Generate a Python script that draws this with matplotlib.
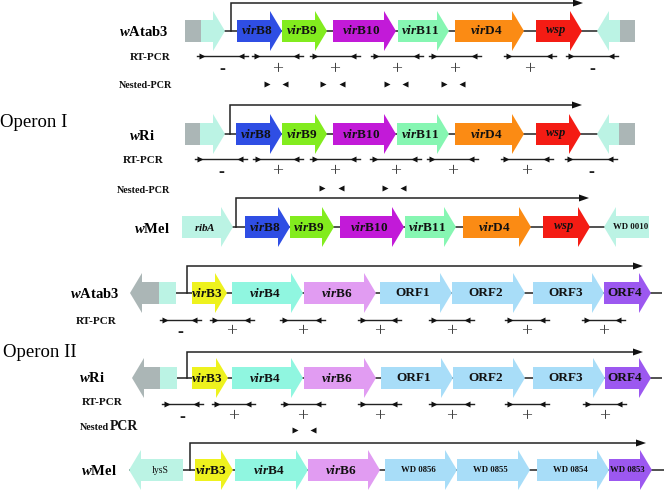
import matplotlib
matplotlib.use('Agg')
import matplotlib.pyplot as plt
from matplotlib.patches import Polygon, Rectangle

plt.rcParams['mathtext.fontset'] = 'custom'
plt.rcParams['mathtext.rm'] = 'Liberation Serif:bold'
plt.rcParams['mathtext.it'] = 'Liberation Serif:italic:bold'
plt.rcParams['mathtext.bf'] = 'Liberation Serif:bold'
SERIF = 'Liberation Serif'

# ---------------- DATA ----------------
# Operon I
op1_wAtab3_genes = ['grey', 'flankF', 'virB8', 'virB9', 'virB10', 'virB11', 'virD4', 'wsp', 'flankR', 'grey']
op1_wAtab3_start = [185, 201, 237, 282, 333, 398, 455, 536, 597, 620]
op1_wAtab3_end = [201, 225, 282, 327, 396, 449, 524, 582, 620, 635]
op1_wAtab3_strand = ['box', '+', '+', '+', '+', '+', '+', '+', '-', 'box']
op1_wAtab3_rt = [(197, 248), (252, 303), (310, 360), (371, 423), (429, 481), (504, 556), (566, 618)]
op1_wAtab3_rt_result = ['-', '+', '+', '+', '+', '+', '-']
op1_wAtab3_nested = [(267, 285), (323, 342), (387, 405), (444, 462)]

op1_wRi_genes = ['grey', 'flankF', 'virB8', 'virB9', 'virB10', 'virB11', 'virD4', 'wsp', 'flankR', 'grey']
op1_wRi_start = [185, 200, 236, 282, 333, 397, 455, 536, 597, 619]
op1_wRi_end = [200, 225, 282, 327, 396, 449, 524, 581, 619, 635]
op1_wRi_strand = ['box', '+', '+', '+', '+', '+', '+', '+', '-', 'box']
op1_wRi_rt = [(195, 247), (253, 303), (310, 360), (370, 421), (427, 478), (501, 553), (565, 617)]
op1_wRi_rt_result = ['-', '+', '+', '+', '+', '+', '-']
op1_wRi_nested = [(322, 341), (385, 403)]

op1_wMel_genes = ['ribA', 'virB8', 'virB9', 'virB10', 'virB11', 'virD4', 'wsp', 'WD 0010']
op1_wMel_start = [182, 245, 290, 340, 405, 463, 543, 604]
op1_wMel_end = [233, 290, 334, 404, 456, 531, 590, 649]
op1_wMel_strand = ['+', '+', '+', '+', '+', '+', '+', '-']

# Operon II
op2_wAtab3_genes = ['grey', 'flankF', 'virB3', 'virB4', 'virB6', 'ORF1', 'ORF2', 'ORF3', 'ORF4']
op2_wAtab3_start = [130, 159, 192, 232, 304, 380, 452, 533, 604]
op2_wAtab3_end = [159, 176, 227, 303, 376, 452, 525, 604, 651]
op2_wAtab3_strand = ['-', 'box', '+', '+', '+', '+', '+', '+', '+']
op2_wAtab3_rt = [(160, 201), (210, 254), (280, 325), (358, 401), (429, 474), (505, 549), (582, 625)]
op2_wAtab3_rt_result = ['-', '+', '+', '+', '+', '+', '+']

op2_wRi_genes = ['grey', 'flankF', 'virB3', 'virB4', 'virB6', 'ORF1', 'ORF2', 'ORF3', 'ORF4']
op2_wRi_start = [132, 160, 192, 232, 304, 381, 453, 533, 605]
op2_wRi_end = [160, 177, 228, 303, 376, 453, 525, 605, 651]
op2_wRi_strand = ['-', 'box', '+', '+', '+', '+', '+', '+', '+']
op2_wRi_rt = [(162, 203), (212, 255), (281, 325), (358, 401), (429, 474), (505, 549), (583, 626)]
op2_wRi_rt_result = ['-', '+', '+', '+', '+', '+', '+']
op2_wRi_nested = [(295, 313)]

op2_wMel_genes = ['lysS', 'virB3', 'virB4', 'virB6', 'WD 0856', 'WD 0855', 'WD 0854', 'WD 0853']
op2_wMel_start = [129, 195, 235, 308, 385, 457, 537, 609]
op2_wMel_end = [183, 233, 308, 380, 457, 530, 609, 652]
op2_wMel_strand = ['-', '+', '+', '+', '+', '+', '+', '+']

strain_labels = ['wAtab3', 'wRi', 'wMel', 'wAtab3', 'wRi', 'wMel']
operon_labels = ['Operon I', 'Operon II']

# ---------------- STYLE ----------------
COLORS = {
    'grey': '#abb6b6', 'flankF': '#bbf3e4', 'flankR': '#bbf3e4', 'ribA': '#bbf3e4',
    'WD 0010': '#bbf3e4', 'lysS': '#bbf3e4',
    'virB8': '#2f4ee4', 'virB9': '#82ec1e', 'virB10': '#c21ad8', 'virB11': '#86f6b2',
    'virD4': '#fb8b14', 'wsp': '#f41c14',
    'virB3': '#eef21e', 'virB4': '#90f6e0', 'virB6': '#e19cf2',
    'ORF1': '#a8ddf8', 'ORF2': '#a8ddf8', 'ORF3': '#a8ddf8', 'ORF4': '#9c58f0',
    'WD 0856': '#a8ddf8', 'WD 0855': '#a8ddf8', 'WD 0854': '#a8ddf8', 'WD 0853': '#9c58f0',
}

fig = plt.figure(figsize=(6.64, 4.9), dpi=100)
ax = fig.add_axes([0, 0, 1, 1])
ax.set_xlim(0, 664)
ax.set_ylim(490, 0)
ax.axis('off')

HEAD = 12
BH = 11
HH = 20


def gene_label(name):
    if name.startswith('vir'):
        return r'$\mathit{vir}\mathrm{' + name[3:] + '}$', 9.5
    if name in ('wsp', 'ribA'):
        return r'$\mathit{' + name + '}$', 9 if name == 'wsp' else 8
    if name.startswith('WD'):
        return name, 6.3
    if name == 'lysS':
        return name, 7
    if name.startswith('ORF'):
        return name, 9.5
    return '', 8


def draw_gene(name, s, e, y, strand):
    col = COLORS[name]
    if strand == 'box':
        ax.add_patch(Rectangle((s, y - BH), e - s, 2 * BH, fc=col, ec='none', zorder=3))
        cx = (s + e) / 2
    elif strand == '+':
        hs = max(s, e - HEAD)
        pts = [(s, y - BH), (hs, y - BH), (hs, y - HH), (e, y), (hs, y + HH), (hs, y + BH), (s, y + BH)]
        ax.add_patch(Polygon(pts, closed=True, fc=col, ec='none', zorder=3))
        cx = (s + hs) / 2 + 3
    else:
        hs = min(e, s + HEAD)
        pts = [(e, y - BH), (hs, y - BH), (hs, y - HH), (s, y), (hs, y + HH), (hs, y + BH), (e, y + BH)]
        ax.add_patch(Polygon(pts, closed=True, fc=col, ec='none', zorder=3))
        cx = (hs + e) / 2 - 2
    lab, fs = gene_label(name)
    if lab:
        kw = dict(ha='center', va='center', fontsize=fs, zorder=5, color='#111111')
        if not lab.startswith('$'):
            kw.update(family=SERIF, fontweight='bold' if name != 'lysS' else 'normal')
        ax.text(cx, y, lab, **kw)


def draw_track(genes, starts, ends, strands, y, backbone, promoter):
    ax.plot(backbone, [y, y], color='#222222', lw=1.1, zorder=1, solid_capstyle='butt')
    for g, s, e, st in zip(genes, starts, ends, strands):
        draw_gene(g, s, e, y, st)
    px, ptop, pend = promoter
    ax.plot([px, px, pend - 4], [y, ptop, ptop], color='#222222', lw=1.1, zorder=2,
            solid_joinstyle='miter')
    ax.add_patch(Polygon([(pend - 9, ptop - 3.5), (pend + 1, ptop), (pend - 9, ptop + 3.5)],
                         closed=True, fc='#111111', ec='none', zorder=4))


def draw_rt(segs, results, y, ysign):
    for (x1, x2), r in zip(segs, results):
        ax.plot([x1, x2], [y, y], color='#222222', lw=1.0, zorder=2)
        ax.plot([x1 + 5], [y], marker='>', ms=4.6, color='#111111', mec='none', zorder=3)
        ax.plot([x2 - 7], [y], marker='<', ms=4.6, color='#111111', mec='none', zorder=3)
        xm = (x1 + x2) / 2
        if r == '+':
            ax.text(xm, ysign, '+', ha='center', va='center', fontsize=14, family=SERIF,
                    color='#444444')
        else:
            ax.text(xm, ysign, '-', ha='center', va='center', fontsize=13, family=SERIF,
                    fontweight='bold', color='#222222')


def draw_nested(pairs, y):
    for a, b in pairs:
        ax.plot([a], [y], marker='>', ms=4.6, color='#111111', mec='none')
        ax.plot([b], [y], marker='<', ms=4.6, color='#111111', mec='none')


def strain_text(x, y, name):
    ax.text(x, y, r'$\mathit{w}\mathrm{' + name[1:] + '}$', ha='center', va='center', fontsize=10.5)


def small_text(x, y, s, fs=8):
    ax.text(x, y, s, ha='center', va='center', fontsize=fs, family=SERIF, fontweight='bold',
            color='#111111')


# ---- Operon I, wAtab3
y = 31
draw_track(op1_wAtab3_genes, op1_wAtab3_start, op1_wAtab3_end, op1_wAtab3_strand, y, [201, 620], (231, 3, 582))
draw_rt(op1_wAtab3_rt, op1_wAtab3_rt_result, y + 25, y + 39)
draw_nested(op1_wAtab3_nested, y + 53)
strain_text(144, y, strain_labels[0])
small_text(150, y + 26, 'RT-PCR')
small_text(146, y + 54, 'Nested-PCR', 7.3)

# ---- Operon I, wRi
y = 134
draw_track(op1_wRi_genes, op1_wRi_start, op1_wRi_end, op1_wRi_strand, y, [200, 619], (230, 105, 581))
draw_rt(op1_wRi_rt, op1_wRi_rt_result, y + 25, y + 38)
draw_nested(op1_wRi_nested, y + 54)
strain_text(142, y + 1, strain_labels[1])
small_text(143, y + 26, 'RT-PCR')
small_text(144, y + 56, 'Nested-PCR', 7.3)

# ---- Operon I, wMel
y = 227
draw_track(op1_wMel_genes, op1_wMel_start, op1_wMel_end, op1_wMel_strand, y, [182, 649], (236, 198, 588))
strain_text(152, y + 1, strain_labels[2])

ax.text(0, 122, operon_labels[0], ha='left', va='center', fontsize=13.5, family=SERIF)

# ---- Operon II, wAtab3
y = 293
draw_track(op2_wAtab3_genes, op2_wAtab3_start, op2_wAtab3_end, op2_wAtab3_strand, y, [159, 662], (187, 266, 642))
draw_rt(op2_wAtab3_rt, op2_wAtab3_rt_result, y + 27, y + 39)
strain_text(95, y, strain_labels[3])
small_text(96, y + 28, 'RT-PCR')

ax.text(3, 352, operon_labels[1], ha='left', va='center', fontsize=13.5, family=SERIF)

# ---- Operon II, wRi
y = 378
draw_track(op2_wRi_genes, op2_wRi_start, op2_wRi_end, op2_wRi_strand, y, [160, 662], (187, 352, 642))
draw_rt(op2_wRi_rt, op2_wRi_rt_result, y + 26, y + 39)
draw_nested(op2_wRi_nested, y + 52)
strain_text(92, y - 1, strain_labels[4])
small_text(102, y + 24, 'RT-PCR')
small_text(94, y + 49, 'Nested', 7.3)
small_text(124, y + 48, 'PCR', 10)

# ---- Operon II, wMel
y = 470
draw_track(op2_wMel_genes, op2_wMel_start, op2_wMel_end, op2_wMel_strand, y, [129, 664], (190, 443, 645))
strain_text(99, y, strain_labels[5])

fig.savefig('out.png', dpi=100)
